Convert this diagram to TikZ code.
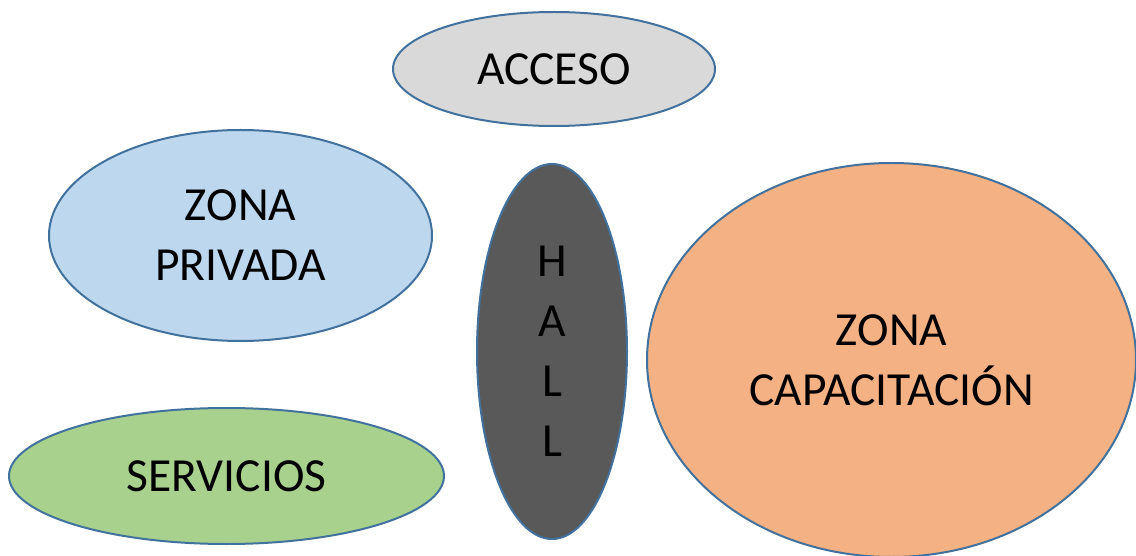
\documentclass[tikz,border=0pt]{standalone}
\usepackage{fontspec}
\setmainfont{Carlito}
\usepackage{xcolor}
\definecolor{cborder}{HTML}{41719C}
\definecolor{cgray}{HTML}{D9D9D9}
\definecolor{cblue}{HTML}{BDD7EE}
\definecolor{cdark}{HTML}{595959}
\definecolor{corange}{HTML}{F4B183}
\definecolor{cgreen}{HTML}{A9D18E}
\usepackage{tikz}
\usetikzlibrary{shapes.geometric}
\tikzset{
x=1pt, y=-1pt,
Zone/.style={
	draw=cborder, ellipse,
	line width=2pt,
	inner sep=0pt,
	align=center,
	font=\fontsize{47.5}{60}\selectfont
},
AccessZone/.style={
	Zone,
	fill=cgray,
	minimum width=322pt, minimum height=114pt
},
PrivateZone/.style={
	Zone,
	fill=cblue,
	minimum width=383pt, minimum height=211pt
},
HallZone/.style={
	Zone,
	fill=cdark,
	minimum width=150pt, minimum height=375pt
},
TrainingZone/.style={
	Zone,
	fill=corange,
	minimum width=489pt, minimum height=394pt
},
ServiceZone/.style={
	Zone,
	fill=cgreen,
	minimum width=435pt, minimum height=136pt
}
}

\begin{document}
\begin{tikzpicture}
	\useasboundingbox (0,0) rectangle (1136,556);

	\node[AccessZone] (acceso) at (554,69) {ACCESO};
	\node[PrivateZone] (privada) at (240.5,235.5) {ZONA\\PRIVADA};
	\node[HallZone] (hall) at (552,351.5) {H\\A\\L\\L};
	\node[TrainingZone] (capacitacion) at (891.5,360) {ZONA\\CAPACITACIÓN};
	\node[ServiceZone] (servicios) at (226.5,476) {SERVICIOS};
\end{tikzpicture}
\end{document}
